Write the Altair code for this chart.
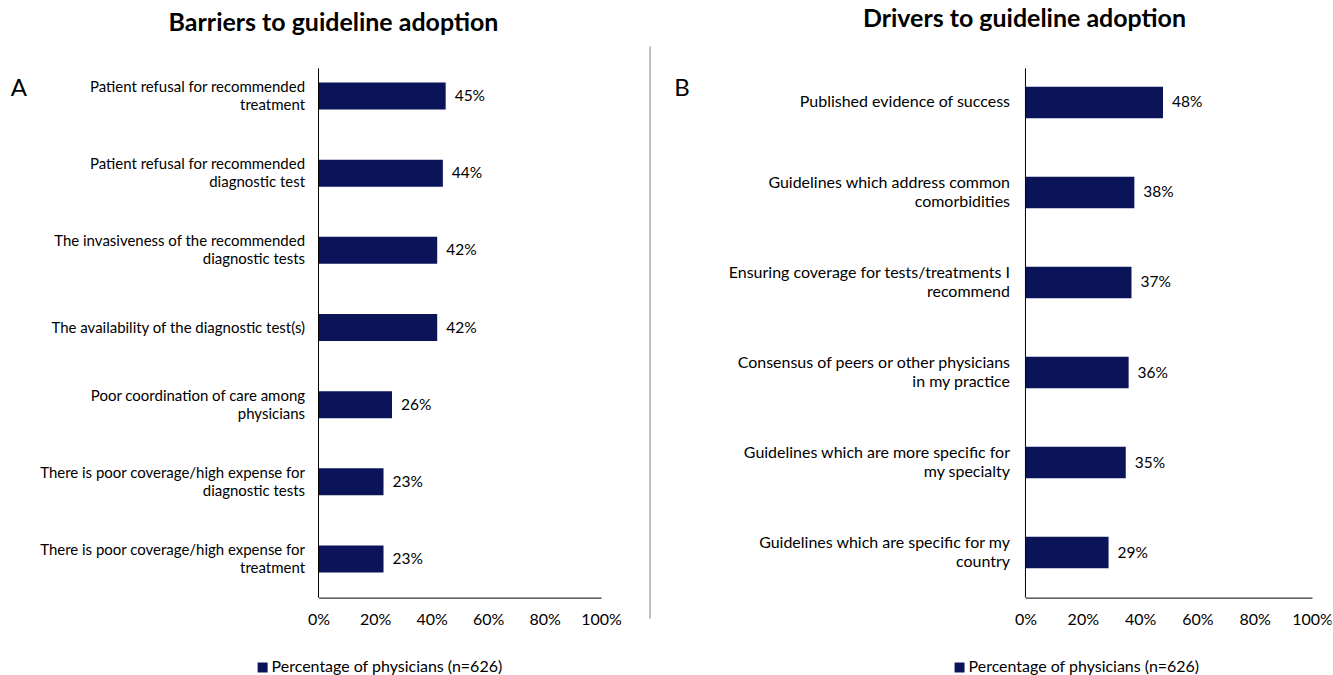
import altair as alt
import pandas as pd

# ---- data ----
barrier_labels = [
    "Patient refusal for recommended|treatment",
    "Patient refusal for recommended|diagnostic test",
    "The invasiveness of the recommended|diagnostic tests",
    "The availability of the diagnostic test(s)",
    "Poor coordination of care among|physicians",
    "There is poor coverage/high expense for|diagnostic tests",
    "There is poor coverage/high expense for|treatment",
]
barrier_values = [45, 44, 42, 42, 26, 23, 23]

driver_labels = [
    "Published evidence of success",
    "Guidelines which address common|comorbidities",
    "Ensuring coverage for tests/treatments I|recommend",
    "Consensus of peers or other physicians|in my practice",
    "Guidelines which are more specific for|my specialty",
    "Guidelines which are specific for my|country",
]
driver_values = [48, 38, 37, 36, 35, 29]

x_ticks = [0, 20, 40, 60, 80, 100]
series_name = "Percentage of physicians (n=626)"
titles = ["Barriers to guideline adoption", "Drivers to guideline adoption"]
letters = ["A", "B"]

# ---- style ----
FONT = "Lato"
BAR = "#0B1459"
H = 541
W_LEFT = 283
W_RIGHT = 287
one = pd.DataFrame({"a": [0]})


def panel(labels, values, width, label_pad, label_size, line_h, title,
          title_x, title_y, letter, letter_x, legend_x, extras):
    df = pd.DataFrame({"cat": labels, "v": values})
    base = alt.Chart(df).transform_calculate(
        series=f"'{series_name}'", txt="datum.v + '%'"
    )
    y = alt.Y(
        "cat:N", sort=labels,
        scale=alt.Scale(paddingInner=0.65, paddingOuter=0.325),
        axis=alt.Axis(title=None, domain=False, ticks=False,
                      labelExpr="split(datum.label, '|')",
                      labelFontSize=label_size, labelFont=FONT,
                      labelColor="#000", labelPadding=label_pad,
                      labelLimit=400, labelLineHeight=line_h,
                      labelOffset={"condition": {
                          "test": "indexof(datum.label, '|') >= 0",
                          "value": -line_h / 2}, "value": 0}),
    )
    x = alt.X(
        "v:Q", scale=alt.Scale(domain=[0, 100], nice=False),
        axis=alt.Axis(values=x_ticks, labelExpr="datum.value + '%'",
                      title=None, grid=False, ticks=False, labelFlush=False,
                      domainColor="#000", domainWidth=1,
                      labelFontSize=16, labelFont=FONT, labelColor="#000",
                      labelPadding=14),
    )
    bars = base.mark_bar().encode(
        x=x, y=y,
        color=alt.Color(
            "series:N",
            scale=alt.Scale(domain=[series_name], range=[BAR]),
            legend=alt.Legend(orient="none", legendX=legend_x, legendY=603,
                              title=None, symbolType="square", symbolSize=100,
                              symbolStrokeWidth=0, labelFontSize=16,
                              labelFont=FONT, labelColor="#000", padding=0,
                              labelOffset=1, labelLimit=500),
        ),
    )
    txt = base.mark_text(align="left", dx=9, fontSize=15.5, font=FONT,
                         color="#000").encode(
        x="v:Q", y=alt.Y("cat:N", sort=labels), text="txt:N"
    )
    yline = alt.Chart(one).mark_rule(color="#000", strokeWidth=1).encode(
        x=alt.value(0), y=alt.value(11), y2=alt.value(H)
    )
    ttl = alt.Chart(one).mark_text(
        text=title, fontSize=25, fontWeight="bold", font=FONT,
        align="center", baseline="middle", color="#000"
    ).encode(x=alt.value(title_x), y=alt.value(title_y))
    let = alt.Chart(one).mark_text(
        text=letter, fontSize=24, font=FONT, align="center",
        baseline="middle", color="#000"
    ).encode(x=alt.value(letter_x), y=alt.value(32))
    return alt.layer(bars, txt, yline, ttl, let, *extras).properties(
        width=width, height=H
    )


left_extras = [
    # separator line between panels
    alt.Chart(one).mark_rule(color="#7f7f7f", strokeWidth=1).encode(
        x=alt.value(332), y=alt.value(-11), y2=alt.value(562)
    ),
    # invisible bound keeper (white on white)
    alt.Chart(one).mark_rule(color="white", strokeWidth=1).encode(
        x=alt.value(-318), y=alt.value(-56), y2=alt.value(619)
    ),
]
right_extras = [
    alt.Chart(one).mark_rule(color="white", strokeWidth=1).encode(
        x=alt.value(307), y=alt.value(-56), y2=alt.value(619)
    ),
]

left = panel(barrier_labels, barrier_values, W_LEFT, 14, 15, 18, titles[0],
             15, -34, letters[0], -300, -64, left_extras)
right = panel(driver_labels, driver_values, W_RIGHT, 16, 16, 19, titles[1],
              -1, -38, letters[1], -344, -74, right_extras)

chart = alt.hconcat(left, right, spacing=425, bounds="flush").resolve_legend(
    color="independent"
).resolve_scale(y="independent").configure_view(stroke=None).properties(
    padding={"left": 0, "top": 0, "right": 0, "bottom": 0},
    background="white",
)

chart.save("out.html", embed_options={"renderer": "svg", "actions": False})
